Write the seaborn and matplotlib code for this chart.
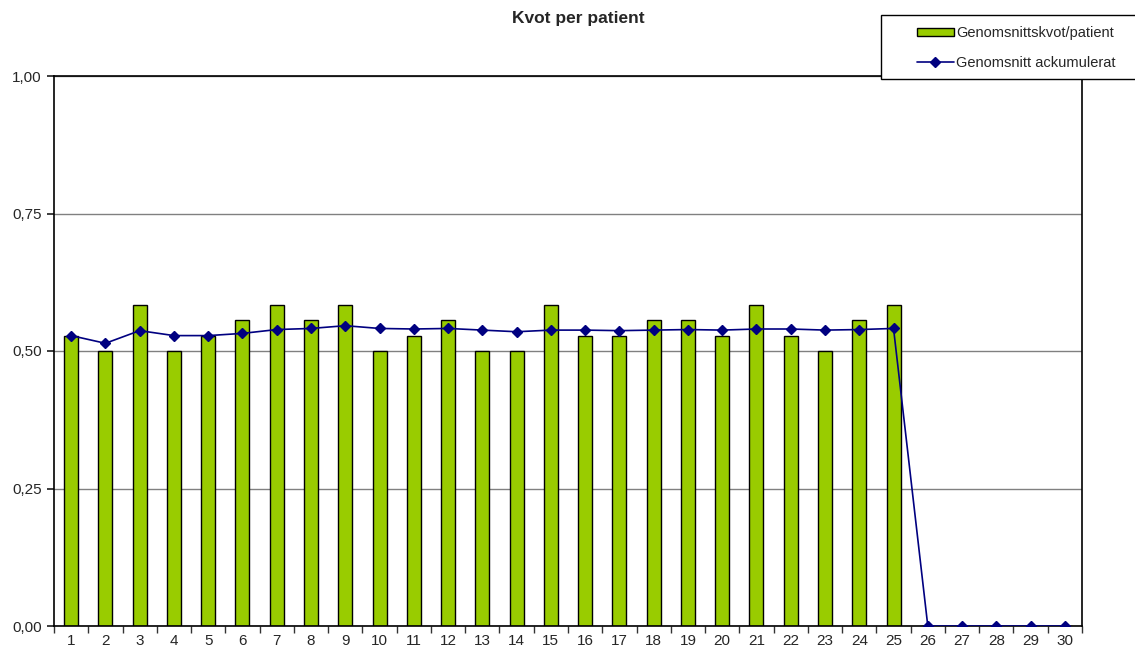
import numpy as np
import pandas as pd
import matplotlib
matplotlib.use("Agg")
import matplotlib.pyplot as plt
import seaborn as sns
from matplotlib.patches import Rectangle
from matplotlib.ticker import FixedLocator, FuncFormatter

# Data
patients = list(range(1, 31))
kvot = [0.528, 0.500, 0.583, 0.500, 0.528, 0.556, 0.583, 0.556, 0.583, 0.500,
        0.528, 0.556, 0.500, 0.500, 0.583, 0.528, 0.528, 0.556, 0.556, 0.528,
        0.583, 0.528, 0.500, 0.556, 0.583, 0, 0, 0, 0, 0]
ackumulerat = [0.528, 0.514, 0.537, 0.528, 0.528, 0.532, 0.539, 0.541, 0.546, 0.541,
               0.540, 0.541, 0.538, 0.535, 0.538, 0.538, 0.537, 0.538, 0.539, 0.538,
               0.540, 0.540, 0.538, 0.539, 0.541, 0, 0, 0, 0, 0]

df = pd.DataFrame({"patient": patients, "kvot": kvot, "ack": ackumulerat})
df["pos"] = np.arange(len(df))

sns.set_theme(style="white")
plt.rcParams['font.family'] = ['Liberation Sans', 'DejaVu Sans']

W, H = 1135, 652
fig = plt.figure(figsize=(W / 100, H / 100), dpi=100)
ax = fig.add_axes([54 / W, 1 - 626 / H, (1082 - 54) / W, (626 - 76) / H])

sns.barplot(data=df, x="pos", y="kvot", color="#99cc00", saturation=1,
            width=0.41, edgecolor="black", linewidth=1, ax=ax)
line, = ax.plot(df["pos"], df["ack"], color="#000080", linewidth=1.2, marker="D",
                markersize=5, zorder=4)

ax.set_xlim(-0.5, len(df) - 0.5)
ax.set_ylim(0, 1)
ax.yaxis.set_major_locator(FixedLocator([0, 0.25, 0.5, 0.75, 1.0]))
ax.yaxis.set_major_formatter(FuncFormatter(lambda v, p: f"{v:.2f}".replace(".", ",")))
ax.set_xticks(df["pos"])
ax.set_xticklabels([str(p) for p in patients])
ax.set_xticks(np.arange(-0.5, len(df)), minor=True)
ax.tick_params(axis="x", which="major", length=0, labelsize=11, pad=6)
ax.tick_params(axis="x", which="minor", length=5, color="#333333", direction="out", bottom=True)
ax.tick_params(axis="y", length=5, direction="out", left=True, labelsize=11, pad=4)
ax.set_xlabel("")
ax.set_ylabel("")
ax.grid(axis="y", color="#808080", linewidth=1)
ax.set_axisbelow(True)
for s in ax.spines.values():
    s.set_color("black")
    s.set_linewidth(1.2)

fig.suptitle("Kvot per patient", x=578 / W, y=1 - 18 / H, va="center",
             fontsize=12.5, fontweight="bold")

# legend box runs off the right edge of the figure
box = Rectangle((881 / W, 1 - 79 / H), 300 / W, 64 / H, transform=fig.transFigure,
                facecolor="white", edgecolor="black", linewidth=1, zorder=5)
fig.patches.append(box)

bar_handle = Rectangle((0, 0), 1, 1, facecolor="#99cc00", edgecolor="black", linewidth=1)
leg = fig.legend([bar_handle, line], ["Genomsnittskvot/patient", "Genomsnitt ackumulerat"],
                 loc="center left", bbox_to_anchor=(904 / W, 1 - 48 / H),
                 frameon=False, fontsize=10.5, labelspacing=1.1,
                 handlelength=2.5, handletextpad=0.15, handleheight=0.5)
leg.set_zorder(6)

fig.savefig("out.png", dpi=100)
